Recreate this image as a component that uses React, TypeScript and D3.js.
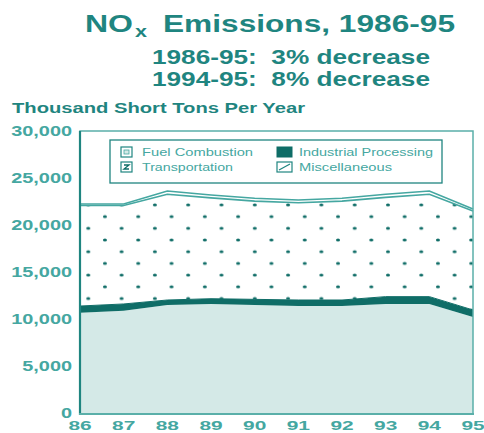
import * as d3 from 'd3'

const years = [1986, 1987, 1988, 1989, 1990, 1991, 1992, 1993, 1994, 1995]
const xTickLabels = ['86', '87', '88', '89', '90', '91', '92', '93', '94', '95']
const fuelCombustion = [10670, 10880, 11490, 11600, 11490, 11380, 11380, 11600, 11600, 10210]
const industrialProcessing = [710, 720, 530, 560, 600, 640, 640, 780, 780, 750]
const transportation = [10700, 10480, 11250, 10730, 10450, 10340, 10520, 10560, 10890, 10540]
const miscellaneous = [150, 150, 350, 300, 300, 300, 300, 330, 350, 200]
const yTicks = [0, 5000, 10000, 15000, 20000, 25000, 30000]

const keys = ['fuel', 'industrial', 'transport', 'misc']

const TEAL_DARK = '#0f6d67'
const TEAL_TITLE = '#1f8580'
const TEAL_LIGHT = '#45a7a1'
const FRAME = '#5aafa9'
const FUEL_FILL = '#d4e9e7'

const FONT = 'Arial, "Liberation Sans", Helvetica, sans-serif'

export default function App() {
  const x = d3.scaleLinear().domain([1986, 1995]).range([80, 473])
  const y = d3.scaleLinear().domain([0, 30000]).range([413, 131])

  const rows = years.map((yr, i) => ({
    year: yr,
    fuel: fuelCombustion[i],
    industrial: industrialProcessing[i],
    transport: transportation[i],
    misc: miscellaneous[i],
  }))
  const series = d3.stack<any>().keys(keys)(rows)

  const area = d3
    .area<any>()
    .x(d => x(d.data.year))
    .y0(d => y(d[0]))
    .y1(d => y(d[1]))
  const topLine = d3
    .line<any>()
    .x(d => x(d.data.year))
    .y(d => y(d[1]))

  const fills: Record<string, string> = {
    fuel: FUEL_FILL,
    industrial: TEAL_DARK,
    transport: 'url(#dots)',
    misc: '#ffffff',
  }

  // legend layout
  const legend = [
    {label: 'Fuel Combustion', sx: 121, sw: 11, tx: 142, tl: 111, row: 0, key: 'fuel'},
    {label: 'Transportation', sx: 121, sw: 11, tx: 142, tl: 91, row: 1, key: 'transport'},
    {label: 'Industrial Processing', sx: 277, sw: 15, tx: 299, tl: 134, row: 0, key: 'industrial'},
    {label: 'Miscellaneous', sx: 277, sw: 15, tx: 299, tl: 93, row: 1, key: 'misc'},
  ]

  const dot = (cx: number, cy: number) => (
    <ellipse key={cx + '-' + cy} cx={cx} cy={cy} rx={2} ry={1.5} fill={TEAL_DARK} />
  )

  return (
    <svg
      width={484}
      height={433}
      style={{position: 'absolute', left: 0, top: 0, background: '#fff'}}
      fontFamily={FONT}
    >
      <defs>
        <pattern id="dots" patternUnits="userSpaceOnUse" x={88.3} y={228.3} width={33.3} height={23.4}>
          <rect width={33.3} height={23.4} fill="#fff" />
          {dot(0, 0)}
          {dot(33.3, 0)}
          {dot(0, 23.4)}
          {dot(33.3, 23.4)}
          {dot(16.65, 11.7)}
        </pattern>
      </defs>

      {/* title */}
      <g fill={TEAL_TITLE} fontWeight="bold">
        <text x={85} y={32} fontSize={24} textLength={48} lengthAdjust="spacingAndGlyphs">
          NO
        </text>
        <text x={135} y={37} fontSize={16} textLength={12} lengthAdjust="spacingAndGlyphs">
          x
        </text>
        <text x={163} y={32} fontSize={24} textLength={292} lengthAdjust="spacingAndGlyphs">
          Emissions, 1986-95
        </text>
        <text
          x={152}
          y={64}
          fontSize={21}
          textLength={278}
          lengthAdjust="spacingAndGlyphs"
          style={{whiteSpace: 'pre'}}
        >
          {'1986-95:  3% decrease'}
        </text>
        <text
          x={152}
          y={86}
          fontSize={21}
          textLength={278}
          lengthAdjust="spacingAndGlyphs"
          style={{whiteSpace: 'pre'}}
        >
          {'1994-95:  8% decrease'}
        </text>
        <text x={12} y={113} fontSize={14} textLength={293} lengthAdjust="spacingAndGlyphs">
          Thousand Short Tons Per Year
        </text>
      </g>

      {/* stacked areas */}
      {series.map(s => (
        <path key={s.key} d={area(s) || ''} fill={fills[s.key]} />
      ))}
      {series
        .filter(s => s.key === 'transport' || s.key === 'misc')
        .map(s => (
          <path key={'l' + s.key} d={topLine(s) || ''} fill="none" stroke={TEAL_LIGHT} strokeWidth={1.6} />
        ))}
      <path d={topLine(series[1]) || ''} fill="none" stroke={TEAL_DARK} strokeWidth={1} />

      {/* frame */}
      <rect x={80} y={131} width={393} height={283} fill="none" stroke={FRAME} strokeWidth={1.5} />
      <line x1={80} x2={80} y1={131} y2={415} stroke={TEAL_TITLE} strokeWidth={2.2} />
      <line x1={79} x2={474} y1={414} y2={414} stroke={FRAME} strokeWidth={1.8} />

      {/* legend */}
      <rect x={110} y={140} width={332} height={43} fill="#fff" stroke={TEAL_TITLE} strokeWidth={1.3} />
      {legend.map(l => {
        const sy = 147 + l.row * 15
        return (
          <g key={l.key}>
            {l.key === 'fuel' && (
              <>
                <rect x={l.sx} y={sy} width={l.sw} height={10} fill="#fff" stroke={TEAL_TITLE} strokeWidth={1.2} />
                <rect x={l.sx + 3} y={sy + 3} width={l.sw - 6} height={4} fill={FUEL_FILL} stroke={TEAL_LIGHT} strokeWidth={0.8} />
              </>
            )}
            {l.key === 'transport' && (
              <>
                <rect x={l.sx} y={sy} width={l.sw} height={10} fill="#fff" stroke={TEAL_TITLE} strokeWidth={1.2} />
                <path d={`M${l.sx + 3},${sy + 3}h5l-5,4h5`} fill="none" stroke={TEAL_DARK} strokeWidth={1.3} />
              </>
            )}
            {l.key === 'industrial' && (
              <rect x={l.sx} y={sy} width={l.sw} height={10} fill={TEAL_DARK} stroke={TEAL_DARK} strokeWidth={1} />
            )}
            {l.key === 'misc' && (
              <>
                <rect x={l.sx} y={sy} width={l.sw} height={10} fill="#fff" stroke={TEAL_TITLE} strokeWidth={1.2} />
                <line x1={l.sx + 2} y1={sy + 8} x2={l.sx + l.sw - 2} y2={sy + 2} stroke={TEAL_TITLE} strokeWidth={1.2} />
              </>
            )}
            <text x={l.tx} y={sy + 9} fontSize={11} fill={TEAL_LIGHT} textLength={l.tl} lengthAdjust="spacingAndGlyphs">
              {l.label}
            </text>
          </g>
        )
      })}

      {/* y axis labels */}
      <g fill={TEAL_LIGHT} fontWeight="bold" fontSize={14}>
        {yTicks.map(t => (
          <text key={t} textAnchor="end" transform={`translate(72,${y(t) + 5}) scale(1.42,1)`}>
            {d3.format(',')(t)}
          </text>
        ))}
      </g>

      {/* x axis labels */}
      <g fill={TEAL_LIGHT} fontWeight="bold" fontSize={13.5}>
        {years.map((yr, i) => (
          <text key={yr} textAnchor="middle" transform={`translate(${x(yr)},429.5) scale(1.55,1)`}>
            {xTickLabels[i]}
          </text>
        ))}
      </g>
    </svg>
  )
}
